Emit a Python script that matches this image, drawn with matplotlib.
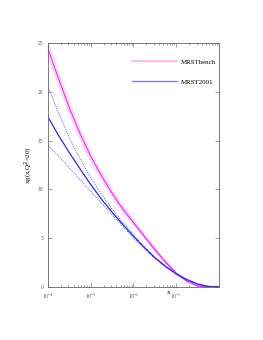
import numpy as np
import matplotlib
matplotlib.use("Agg")
import matplotlib.pyplot as plt

plt.rcParams['font.family'] = ['Liberation Serif', 'DejaVu Serif']

log_x = [-4, -3.75, -3.5, -3.25, -3, -2.75, -2.5, -2.25, -2, -1.75, -1.5, -1.25, -1, -0.75, -0.5, -0.25, 0]
bench_c = [24.4, 21.3, 18.35, 15.7, 13.4, 11.4, 9.6, 8.0, 6.6, 5.2, 3.85, 2.55, 1.4, 0.6, 0.12, 0.01, 0.0]
bench_err = [0.6, 0.55, 0.5, 0.45, 0.4, 0.35, 0.3, 0.25, 0.2, 0.17, 0.14, 0.12, 0.1, 0.06, 0.03, 0.01, 0.0]
m2001_c = [17.4, 15.5, 13.75, 12.1, 10.5, 9.0, 7.65, 6.4, 5.2, 4.05, 3.0, 2.1, 1.35, 0.75, 0.3, 0.05, 0.0]
m2001_hi = [20.5, 17.8, 15.3, 13.1, 11.2, 9.5, 8.0, 6.6, 5.35, 4.15, 3.08, 2.16, 1.4, 0.8, 0.33, 0.06, 0.0]
m2001_lo = [14.5, 13.4, 12.2, 11.0, 9.8, 8.6, 7.4, 6.2, 5.05, 3.95, 2.93, 2.05, 1.3, 0.7, 0.27, 0.04, 0.0]
labels = ['MRSTbench', 'MRST2001']

x = 10.0 ** np.array(log_x)
bc = np.array(bench_c); be = np.array(bench_err)

fig = plt.figure(figsize=(2.63, 3.40), dpi=100)
ax = fig.add_axes([0.1825, 0.156, 0.65, 0.7175])

mag = '#ff22ff'
blu = '#2a2aff'
ax.plot(x, bc + be, color='#ff88ff', lw=0.7, ls=(0, (1, 1)))
ax.plot(x, bc - be, color='#ff88ff', lw=0.7, ls=(0, (1, 1)))
ax.plot(x, bc, color=mag, lw=0.9)
ax.plot(x, m2001_hi, color=blu, lw=0.6, ls=(0, (1, 1.5)))
ax.plot(x, m2001_lo, color=blu, lw=0.6, ls=(0, (1, 1.5)))
ax.plot(x, m2001_c, color=blu, lw=0.9)

# legend handles
ax.plot([], [], color='#ffaaee', lw=1.2, label=labels[0])
ax.plot([], [], color='#7777ff', lw=0.9, label=labels[1])
h, l = ax.get_legend_handles_labels()
ax.legend(h, l, loc='upper right', bbox_to_anchor=(1.02, 0.96), frameon=False, fontsize=5,
          handlelength=6.5, labelspacing=2.0, handletextpad=0.5)

ax.set_xscale('log')
ax.set_xlim(1e-4, 1)
ax.set_ylim(0, 25)
ax.set_yticks([0, 5, 10, 15, 20, 25])
ax.set_xticks([1e-4, 1e-3, 1e-2, 1e-1])
ax.tick_params(which='both', direction='in', top=True, right=True, labelsize=4, width=0.4, colors='#555555')
ax.tick_params(which='major', length=3)
ax.tick_params(which='minor', length=1.5)
for s in ax.spines.values():
    s.set_linewidth(0.6)
    s.set_color('#666666')
ax.set_ylabel('xg(x,Q$^2$=20)', fontsize=5, labelpad=2)
ax.text(0.715, -0.012, 'x', fontsize=5, ha='right', va='top', transform=ax.transAxes)

fig.savefig('out.png', dpi=100)
